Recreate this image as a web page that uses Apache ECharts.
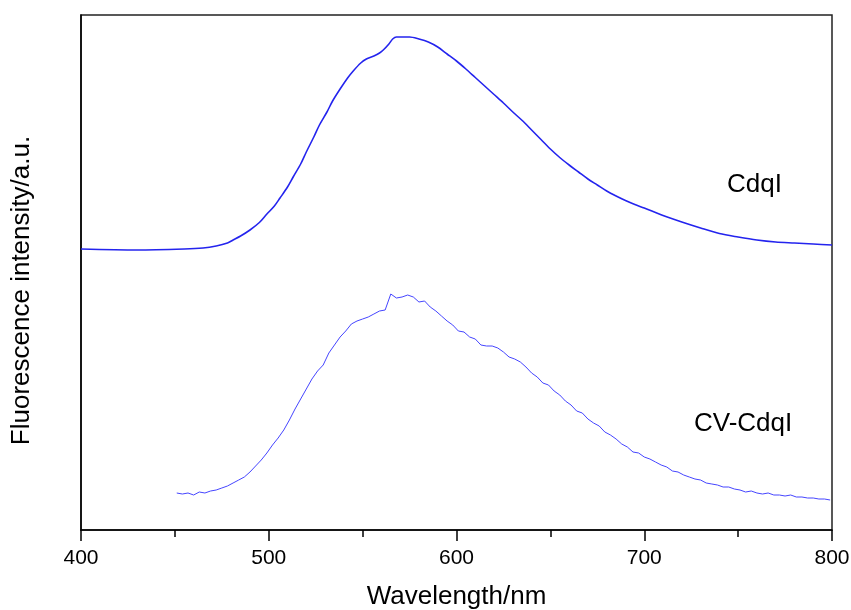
<!DOCTYPE html>
<html>
<head>
<meta charset="utf-8">
<script src="https://cdn.jsdelivr.net/npm/echarts@6/dist/echarts.min.js"></script>
<style>
html,body{margin:0;padding:0;background:#fff;}
#chart{width:851px;height:610px;}
</style>
</head>
<body>
<div id="chart"></div>
<script>
// Upper spectrum (CdqI)
const cdqWavelength = [400,430,455,465,472,478,481,485,490,495,499,503,506,510,513,517,520,524,527,531,534,538,542,545,549,552,556,559,561,564,566,568,572,575,580,585,590,595,600,605,610,615,620,625,630,635,640,645,650,655,660,665,670,675,680,685,690,695,700,710,720,730,740,750,760,770,780,790,800];
const cdqIntensity  = [281,280,281,282,284,287,290,294,300,307.5,316,324,332,343,353,366,378,393,405,418,429,441,452,459,467,471,474,477,480,486,491,493,493,493,491,488,483,476,469,461,452.5,444,435.5,427,418,409.5,400,390.5,381,372.5,365,358,351,345,339,334,329.5,325.5,322,314.5,308,302,296.5,293,290,288,287,286,285];

// Lower spectrum (CV-CdqI)
const cvWavelength = [451,454,457,460,463,466,469,472,475,478,481,484,487,490,493,496,499,502,505,508,511,514,517,520,523,526,529,532,535,538,541,544,547,550,553,556,559,562,565,568,571,574,577,580,583,586,589,592,595,598,601,604,607,610,613,616,619,622,625,628,631,634,637,640,643,646,649,652,655,658,661,664,667,670,673,676,679,682,685,688,691,694,697,700,703,706,709,712,715,718,721,724,727,730,733,736,739,742,745,748,751,754,757,760,763,766,769,772,775,778,781,784,787,790,793,796,799];
const cvIntensity  = [37,36,37,35,38,37,39,40,42,44,47,50,53,58,64,70,77,85,92,100,110,121,131,141,151,159,165,177,185,193,199,206,209,211,213,216,219,220,236,232,233,235,233,228,229,223,219,214,209,205,199,198,193,191,185,184,184,182,178,173,171,168,163,157,153,147,145,139,135,129,125,119,117,111,107,104,98,95,91,86,83,78,77,73,71,68,65,63,59,58,55,53,51,50,47,46,45,43,43,41,40,38,39,37,36,37,35,35,34,35,33,33,32,32,31,31,30];

// Axis ticks
const xTicks = [400, 500, 600, 700, 800];
const seriesNames = ['CdqI', 'CV-CdqI'];

const pair = (xs, ys) => xs.map((x, i) => [x, ys[i]]);

const chart = echarts.init(document.getElementById('chart'), null, {renderer: 'canvas'});
const font = '"Liberation Sans", Arial, sans-serif';

chart.setOption({
  animation: false,
  backgroundColor: '#fff',
  grid: {
    left: 81, right: 19, top: 15, bottom: 80,
    containLabel: false, outerBoundsMode: 'none',
    show: true, borderColor: '#222', borderWidth: 1.5, backgroundColor: 'transparent'
  },
  xAxis: {
    type: 'value',
    min: xTicks[0], max: xTicks[xTicks.length - 1], interval: 100,
    name: 'Wavelength/nm', nameLocation: 'middle', nameGap: 54,
    nameTextStyle: {fontFamily: font, fontSize: 26, color: '#000'},
    axisLine: {show: true, lineStyle: {color: '#000', width: 1.5}},
    axisTick: {show: true, inside: false, length: 11, lineStyle: {color: '#000', width: 1.5}},
    minorTick: {show: true, splitNumber: 2, length: 7, lineStyle: {color: '#000', width: 1.5}},
    axisLabel: {fontFamily: font, fontSize: 21, color: '#000', margin: 18},
    splitLine: {show: false}
  },
  yAxis: {
    type: 'value', min: 0, max: 515,
    name: 'Fluorescence intensity/a.u.', nameLocation: 'middle', nameGap: 46, nameRotate: 90,
    nameTextStyle: {fontFamily: font, fontSize: 26, color: '#000', padding: [0, 36, 0, 0]},
    axisLine: {show: true, lineStyle: {color: '#000', width: 1.5}},
    axisTick: {show: false},
    axisLabel: {show: false},
    splitLine: {show: false}
  },
  series: [
    {
      name: seriesNames[0], type: 'line', showSymbol: false, smooth: 0.3,
      data: pair(cdqWavelength, cdqIntensity),
      lineStyle: {color: '#2424ee', width: 1.6}
    },
    {
      name: seriesNames[1], type: 'line', showSymbol: false, smooth: false,
      data: pair(cvWavelength, cvIntensity),
      lineStyle: {color: '#4545ff', width: 1}
    }
  ],
  graphic: [
    {type: 'text', left: 727, top: 172, style: {text: seriesNames[0], font: '26px ' + font, fill: '#000'}},
    {type: 'text', left: 694, top: 411, style: {text: seriesNames[1], font: '26px ' + font, fill: '#000'}}
  ]
});
</script>
</body>
</html>
